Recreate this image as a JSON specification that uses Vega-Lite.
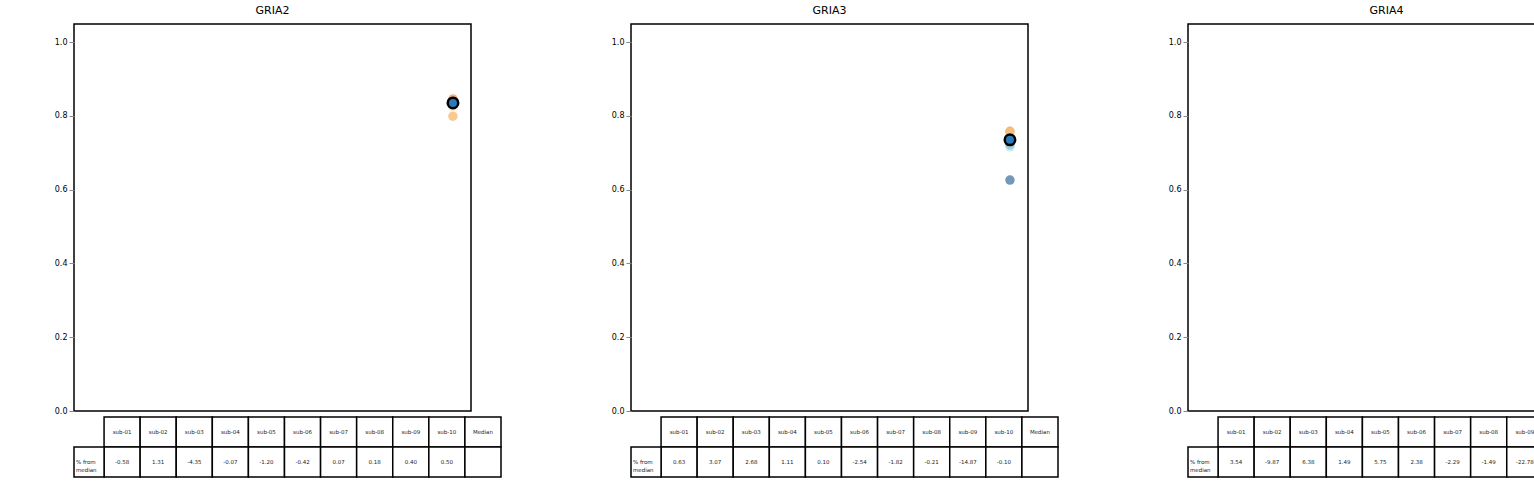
{
"$schema":"https://vega.github.io/schema/vega-lite/v6.json",
"padding":{"left":43,"top":4,"right":5,"bottom":5},
"background":"white",
"config":{"font":"DejaVu Sans","view":{"stroke":null},"concat":{"spacing":98}},
"datasets":{
"v":[
{"g":"GRIA2","s":0,"y":0.47,"w":0},{"g":"GRIA2","s":0,"y":0.62,"w":0.02},{"g":"GRIA2","s":0,"y":0.78,"w":0.12},{"g":"GRIA2","s":0,"y":0.84,"w":0.2},{"g":"GRIA2","s":0,"y":0.88,"w":0.12},{"g":"GRIA2","s":0,"y":0.92,"w":0},
{"g":"GRIA2","s":1,"y":0.72,"w":0},{"g":"GRIA2","s":1,"y":0.78,"w":0.06},{"g":"GRIA2","s":1,"y":0.82,"w":0.16},{"g":"GRIA2","s":1,"y":0.85,"w":0.2},{"g":"GRIA2","s":1,"y":0.89,"w":0.12},{"g":"GRIA2","s":1,"y":0.92,"w":0},
{"g":"GRIA2","s":2,"y":0.61,"w":0},{"g":"GRIA2","s":2,"y":0.72,"w":0.05},{"g":"GRIA2","s":2,"y":0.79,"w":0.16},{"g":"GRIA2","s":2,"y":0.83,"w":0.2},{"g":"GRIA2","s":2,"y":0.87,"w":0.12},{"g":"GRIA2","s":2,"y":0.91,"w":0},
{"g":"GRIA2","s":3,"y":0.56,"w":0},{"g":"GRIA2","s":3,"y":0.70,"w":0.03},{"g":"GRIA2","s":3,"y":0.79,"w":0.12},{"g":"GRIA2","s":3,"y":0.84,"w":0.2},{"g":"GRIA2","s":3,"y":0.88,"w":0.12},{"g":"GRIA2","s":3,"y":0.92,"w":0},
{"g":"GRIA2","s":4,"y":0.47,"w":0},{"g":"GRIA2","s":4,"y":0.65,"w":0.02},{"g":"GRIA2","s":4,"y":0.79,"w":0.1},{"g":"GRIA2","s":4,"y":0.84,"w":0.18},{"g":"GRIA2","s":4,"y":0.88,"w":0.1},{"g":"GRIA2","s":4,"y":0.91,"w":0},
{"g":"GRIA2","s":5,"y":0.55,"w":0},{"g":"GRIA2","s":5,"y":0.68,"w":0.02},{"g":"GRIA2","s":5,"y":0.79,"w":0.12},{"g":"GRIA2","s":5,"y":0.84,"w":0.2},{"g":"GRIA2","s":5,"y":0.88,"w":0.1},{"g":"GRIA2","s":5,"y":0.91,"w":0},
{"g":"GRIA2","s":6,"y":0.60,"w":0},{"g":"GRIA2","s":6,"y":0.72,"w":0.03},{"g":"GRIA2","s":6,"y":0.80,"w":0.12},{"g":"GRIA2","s":6,"y":0.84,"w":0.2},{"g":"GRIA2","s":6,"y":0.88,"w":0.12},{"g":"GRIA2","s":6,"y":0.91,"w":0},
{"g":"GRIA2","s":7,"y":0.58,"w":0},{"g":"GRIA2","s":7,"y":0.70,"w":0.03},{"g":"GRIA2","s":7,"y":0.80,"w":0.12},{"g":"GRIA2","s":7,"y":0.84,"w":0.2},{"g":"GRIA2","s":7,"y":0.88,"w":0.12},{"g":"GRIA2","s":7,"y":0.91,"w":0},
{"g":"GRIA2","s":8,"y":0.64,"w":0},{"g":"GRIA2","s":8,"y":0.72,"w":0.05},{"g":"GRIA2","s":8,"y":0.79,"w":0.16},{"g":"GRIA2","s":8,"y":0.85,"w":0.22},{"g":"GRIA2","s":8,"y":0.89,"w":0.14},{"g":"GRIA2","s":8,"y":0.91,"w":0},
{"g":"GRIA2","s":9,"y":0.67,"w":0},{"g":"GRIA2","s":9,"y":0.75,"w":0.04},{"g":"GRIA2","s":9,"y":0.80,"w":0.14},{"g":"GRIA2","s":9,"y":0.84,"w":0.22},{"g":"GRIA2","s":9,"y":0.88,"w":0.14},{"g":"GRIA2","s":9,"y":0.92,"w":0},
{"g":"GRIA3","s":0,"y":0.55,"w":0},{"g":"GRIA3","s":0,"y":0.65,"w":0.05},{"g":"GRIA3","s":0,"y":0.72,"w":0.16},{"g":"GRIA3","s":0,"y":0.76,"w":0.22},{"g":"GRIA3","s":0,"y":0.80,"w":0.12},{"g":"GRIA3","s":0,"y":0.83,"w":0},
{"g":"GRIA3","s":1,"y":0.60,"w":0},{"g":"GRIA3","s":1,"y":0.67,"w":0.04},{"g":"GRIA3","s":1,"y":0.73,"w":0.14},{"g":"GRIA3","s":1,"y":0.77,"w":0.2},{"g":"GRIA3","s":1,"y":0.80,"w":0.12},{"g":"GRIA3","s":1,"y":0.83,"w":0},
{"g":"GRIA3","s":2,"y":0.62,"w":0},{"g":"GRIA3","s":2,"y":0.68,"w":0.05},{"g":"GRIA3","s":2,"y":0.73,"w":0.14},{"g":"GRIA3","s":2,"y":0.77,"w":0.2},{"g":"GRIA3","s":2,"y":0.80,"w":0.12},{"g":"GRIA3","s":2,"y":0.82,"w":0},
{"g":"GRIA3","s":3,"y":0.56,"w":0},{"g":"GRIA3","s":3,"y":0.66,"w":0.04},{"g":"GRIA3","s":3,"y":0.72,"w":0.14},{"g":"GRIA3","s":3,"y":0.76,"w":0.2},{"g":"GRIA3","s":3,"y":0.79,"w":0.12},{"g":"GRIA3","s":3,"y":0.82,"w":0},
{"g":"GRIA3","s":4,"y":0.57,"w":0},{"g":"GRIA3","s":4,"y":0.66,"w":0.04},{"g":"GRIA3","s":4,"y":0.72,"w":0.14},{"g":"GRIA3","s":4,"y":0.76,"w":0.2},{"g":"GRIA3","s":4,"y":0.79,"w":0.12},{"g":"GRIA3","s":4,"y":0.82,"w":0},
{"g":"GRIA3","s":5,"y":0.44,"w":0},{"g":"GRIA3","s":5,"y":0.60,"w":0.05},{"g":"GRIA3","s":5,"y":0.70,"w":0.15},{"g":"GRIA3","s":5,"y":0.76,"w":0.22},{"g":"GRIA3","s":5,"y":0.80,"w":0.12},{"g":"GRIA3","s":5,"y":0.84,"w":0},
{"g":"GRIA3","s":6,"y":0.43,"w":0},{"g":"GRIA3","s":6,"y":0.60,"w":0.05},{"g":"GRIA3","s":6,"y":0.70,"w":0.15},{"g":"GRIA3","s":6,"y":0.77,"w":0.22},{"g":"GRIA3","s":6,"y":0.81,"w":0.12},{"g":"GRIA3","s":6,"y":0.84,"w":0},
{"g":"GRIA3","s":7,"y":0.46,"w":0},{"g":"GRIA3","s":7,"y":0.60,"w":0.05},{"g":"GRIA3","s":7,"y":0.70,"w":0.15},{"g":"GRIA3","s":7,"y":0.76,"w":0.2},{"g":"GRIA3","s":7,"y":0.80,"w":0.12},{"g":"GRIA3","s":7,"y":0.83,"w":0},
{"g":"GRIA3","s":8,"y":0.22,"w":0},{"g":"GRIA3","s":8,"y":0.40,"w":0.06},{"g":"GRIA3","s":8,"y":0.55,"w":0.16},{"g":"GRIA3","s":8,"y":0.72,"w":0.24},{"g":"GRIA3","s":8,"y":0.79,"w":0.2},{"g":"GRIA3","s":8,"y":0.83,"w":0},
{"g":"GRIA3","s":9,"y":0.46,"w":0},{"g":"GRIA3","s":9,"y":0.60,"w":0.05},{"g":"GRIA3","s":9,"y":0.70,"w":0.16},{"g":"GRIA3","s":9,"y":0.77,"w":0.24},{"g":"GRIA3","s":9,"y":0.81,"w":0.14},{"g":"GRIA3","s":9,"y":0.84,"w":0},
{"g":"GRIA4","s":0,"y":0.14,"w":0},{"g":"GRIA4","s":0,"y":0.22,"w":0.06},{"g":"GRIA4","s":0,"y":0.30,"w":0.16},{"g":"GRIA4","s":0,"y":0.36,"w":0.22},{"g":"GRIA4","s":0,"y":0.44,"w":0.12},{"g":"GRIA4","s":0,"y":0.62,"w":0},
{"g":"GRIA4","s":1,"y":0.10,"w":0.08},{"g":"GRIA4","s":1,"y":0.16,"w":0.12},{"g":"GRIA4","s":1,"y":0.28,"w":0.18},{"g":"GRIA4","s":1,"y":0.34,"w":0.22},{"g":"GRIA4","s":1,"y":0.40,"w":0.14},{"g":"GRIA4","s":1,"y":0.48,"w":0},
{"g":"GRIA4","s":2,"y":0.13,"w":0},{"g":"GRIA4","s":2,"y":0.22,"w":0.06},{"g":"GRIA4","s":2,"y":0.30,"w":0.16},{"g":"GRIA4","s":2,"y":0.36,"w":0.22},{"g":"GRIA4","s":2,"y":0.42,"w":0.14},{"g":"GRIA4","s":2,"y":0.50,"w":0},
{"g":"GRIA4","s":3,"y":0.14,"w":0},{"g":"GRIA4","s":3,"y":0.22,"w":0.06},{"g":"GRIA4","s":3,"y":0.30,"w":0.16},{"g":"GRIA4","s":3,"y":0.36,"w":0.22},{"g":"GRIA4","s":3,"y":0.43,"w":0.12},{"g":"GRIA4","s":3,"y":0.55,"w":0},
{"g":"GRIA4","s":4,"y":0.17,"w":0},{"g":"GRIA4","s":4,"y":0.24,"w":0.06},{"g":"GRIA4","s":4,"y":0.31,"w":0.16},{"g":"GRIA4","s":4,"y":0.37,"w":0.22},{"g":"GRIA4","s":4,"y":0.45,"w":0.12},{"g":"GRIA4","s":4,"y":0.63,"w":0},
{"g":"GRIA4","s":5,"y":0.17,"w":0},{"g":"GRIA4","s":5,"y":0.24,"w":0.08},{"g":"GRIA4","s":5,"y":0.30,"w":0.18},{"g":"GRIA4","s":5,"y":0.36,"w":0.24},{"g":"GRIA4","s":5,"y":0.45,"w":0.12},{"g":"GRIA4","s":5,"y":0.67,"w":0},
{"g":"GRIA4","s":6,"y":0.14,"w":0},{"g":"GRIA4","s":6,"y":0.22,"w":0.06},{"g":"GRIA4","s":6,"y":0.30,"w":0.18},{"g":"GRIA4","s":6,"y":0.36,"w":0.22},{"g":"GRIA4","s":6,"y":0.45,"w":0.12},{"g":"GRIA4","s":6,"y":0.66,"w":0},
{"g":"GRIA4","s":7,"y":0.14,"w":0},{"g":"GRIA4","s":7,"y":0.22,"w":0.06},{"g":"GRIA4","s":7,"y":0.30,"w":0.16},{"g":"GRIA4","s":7,"y":0.36,"w":0.22},{"g":"GRIA4","s":7,"y":0.44,"w":0.12},{"g":"GRIA4","s":7,"y":0.62,"w":0},
{"g":"GRIA4","s":8,"y":0.10,"w":0.08},{"g":"GRIA4","s":8,"y":0.16,"w":0.14},{"g":"GRIA4","s":8,"y":0.24,"w":0.22},{"g":"GRIA4","s":8,"y":0.30,"w":0.24},{"g":"GRIA4","s":8,"y":0.40,"w":0.14},{"g":"GRIA4","s":8,"y":0.69,"w":0},
{"g":"GRIA4","s":9,"y":0.12,"w":0},{"g":"GRIA4","s":9,"y":0.20,"w":0.06},{"g":"GRIA4","s":9,"y":0.30,"w":0.16},{"g":"GRIA4","s":9,"y":0.37,"w":0.24},{"g":"GRIA4","s":9,"y":0.45,"w":0.14},{"g":"GRIA4","s":9,"y":0.63,"w":0}
],
"m":[
{"g":"GRIA2","s":0,"v":0.830,"p":"-0.58"},{"g":"GRIA2","s":1,"v":0.846,"p":"1.31"},{"g":"GRIA2","s":2,"v":0.799,"p":"-4.35"},{"g":"GRIA2","s":3,"v":0.834,"p":"-0.07"},{"g":"GRIA2","s":4,"v":0.825,"p":"-1.20"},{"g":"GRIA2","s":5,"v":0.831,"p":"-0.42"},{"g":"GRIA2","s":6,"v":0.836,"p":"0.07"},{"g":"GRIA2","s":7,"v":0.837,"p":"0.18"},{"g":"GRIA2","s":8,"v":0.838,"p":"0.40"},{"g":"GRIA2","s":9,"v":0.839,"p":"0.50"},
{"g":"GRIA3","s":0,"v":0.740,"p":"0.63"},{"g":"GRIA3","s":1,"v":0.758,"p":"3.07"},{"g":"GRIA3","s":2,"v":0.755,"p":"2.68"},{"g":"GRIA3","s":3,"v":0.743,"p":"1.11"},{"g":"GRIA3","s":4,"v":0.736,"p":"0.10"},{"g":"GRIA3","s":5,"v":0.716,"p":"-2.54"},{"g":"GRIA3","s":6,"v":0.722,"p":"-1.82"},{"g":"GRIA3","s":7,"v":0.733,"p":"-0.21"},{"g":"GRIA3","s":8,"v":0.626,"p":"-14.87"},{"g":"GRIA3","s":9,"v":0.734,"p":"-0.10"},
{"g":"GRIA4","s":0,"v":0.357,"p":"3.54"},{"g":"GRIA4","s":1,"v":0.311,"p":"-9.87"},{"g":"GRIA4","s":2,"v":0.367,"p":"6.38"},{"g":"GRIA4","s":3,"v":0.350,"p":"1.49"},{"g":"GRIA4","s":4,"v":0.365,"p":"5.75"},{"g":"GRIA4","s":5,"v":0.353,"p":"2.38"},{"g":"GRIA4","s":6,"v":0.337,"p":"-2.29"},{"g":"GRIA4","s":7,"v":0.340,"p":"-1.49"},{"g":"GRIA4","s":8,"v":0.266,"p":"-22.78"},{"g":"GRIA4","s":9,"v":0.325,"p":"-5.83"}
],
"om":[{"g":"GRIA2","v":0.835},{"g":"GRIA3","v":0.735},{"g":"GRIA4","v":0.345}],
"names":[{"c":0,"label":"sub-01"},{"c":1,"label":"sub-02"},{"c":2,"label":"sub-03"},{"c":3,"label":"sub-04"},{"c":4,"label":"sub-05"},{"c":5,"label":"sub-06"},{"c":6,"label":"sub-07"},{"c":7,"label":"sub-08"},{"c":8,"label":"sub-09"},{"c":9,"label":"sub-10"},{"c":10,"label":"Median"}],
"lab":[{"t":"% from\nmedian"}]
},
"resolve":{"scale":{"x":"independent","y":"independent"}},
"hconcat":[
{"spacing":0,"resolve":{"scale":{"x":"independent","y":"independent"}},"vconcat":[
 {"width":397,"height":387,"title":{"text":"GRIA2","fontSize":11,"fontWeight":"normal","offset":8},"view":{"stroke":"black","strokeWidth":1.5},
  "layer":[
   {"data":{"name":"v"},"transform":[{"filter":"datum.g=='GRIA2'"},{"calculate":"datum.s-datum.w","as":"lo"},{"calculate":"datum.s+datum.w","as":"hi"}],
    "mark":{"type":"area","orient":"horizontal","opacity":0.9},
    "encoding":{"y":{"field":"y","type":"quantitative","scale":{"domain":[0,1.049],"nice":false},"axis":{"values":[0,0.2,0.4,0.6,0.8,1.0],"format":".1f","grid":false,"domain":false,"labelFontSize":8,"tickSize":5,"title":null,"minExtent":30,"maxExtent":30}},
     "x":{"field":"lo","type":"quantitative","scale":{"domain":[-0.5,10.5],"nice":false,"zero":false},"axis":null},"x2":{"field":"hi"},
     "color":{"field":"s","type":"ordinal","scale":{"domain":[0,1,2,3,4,5,6,7,8,9],"range":["#e8827a","#f0a46c","#f7c07e","#fcd98e","#fdebc8","#c4e6e8","#8ccbe0","#73a9c4","#5b86ad","#44688c"]},"legend":null},
     "detail":{"field":"s"},"order":{"field":"y"}}},
   {"data":{"name":"m"},"transform":[{"filter":"datum.g=='GRIA2'"}],"mark":{"type":"circle","size":90,"opacity":0.85},
    "encoding":{"x":{"datum":10,"type":"quantitative"},"y":{"field":"v","type":"quantitative"},"color":{"field":"s","type":"ordinal","legend":null}}},
   {"data":{"name":"om"},"transform":[{"filter":"datum.g=='GRIA2'"}],"mark":{"type":"circle","size":110,"fill":"#2b7bba","stroke":"black","strokeWidth":2.5,"opacity":1},
    "encoding":{"x":{"datum":10,"type":"quantitative"},"y":{"field":"v","type":"quantitative"}}}
  ]},
 {"width":427,"height":60,"layer":[
   {"data":{"name":"names"},"transform":[{"calculate":"datum.c-0.5","as":"a"},{"calculate":"datum.c+0.5","as":"b"}],"mark":{"type":"rect","fill":"white","stroke":"black","strokeWidth":1.5},
    "encoding":{"x":{"field":"a","type":"quantitative","scale":{"domain":[-1.333,10.5],"nice":false,"zero":false},"axis":null},"x2":{"field":"b"},"y":{"datum":0,"type":"quantitative","scale":{"domain":[0,2],"reverse":true,"nice":false},"axis":null},"y2":{"datum":1}}},
   {"data":{"name":"names"},"transform":[{"calculate":"datum.c-0.5","as":"a"},{"calculate":"datum.c+0.5","as":"b"}],"mark":{"type":"rect","fill":"white","stroke":"black","strokeWidth":1.5},
    "encoding":{"x":{"field":"a","type":"quantitative"},"x2":{"field":"b"},"y":{"datum":1,"type":"quantitative"},"y2":{"datum":2}}},
   {"data":{"name":"lab"},"mark":{"type":"rect","fill":"white","stroke":"black","strokeWidth":1.5},
    "encoding":{"x":{"datum":-1.333,"type":"quantitative"},"x2":{"datum":-0.5},"y":{"datum":1,"type":"quantitative"},"y2":{"datum":2}}},
   {"data":{"name":"names"},"mark":{"type":"text","fontSize":5.5,"color":"#222"},
    "encoding":{"x":{"field":"c","type":"quantitative"},"y":{"datum":0.5,"type":"quantitative"},"text":{"field":"label"}}},
   {"data":{"name":"m"},"transform":[{"filter":"datum.g=='GRIA2'"}],"mark":{"type":"text","fontSize":5.5,"color":"#222"},
    "encoding":{"x":{"field":"s","type":"quantitative"},"y":{"datum":1.5,"type":"quantitative"},"text":{"field":"p"}}},
   {"data":{"name":"lab"},"mark":{"type":"text","fontSize":5.5,"color":"#222","lineBreak":"\n","align":"left"},
    "encoding":{"x":{"datum":-1.28,"type":"quantitative"},"y":{"datum":1.5,"type":"quantitative"},"text":{"field":"t"}}}
 ]}
]},
{"spacing":0,"resolve":{"scale":{"x":"independent","y":"independent"}},"vconcat":[
 {"width":397,"height":387,"title":{"text":"GRIA3","fontSize":11,"fontWeight":"normal","offset":8},"view":{"stroke":"black","strokeWidth":1.5},
  "layer":[
   {"data":{"name":"v"},"transform":[{"filter":"datum.g=='GRIA3'"},{"calculate":"datum.s-datum.w","as":"lo"},{"calculate":"datum.s+datum.w","as":"hi"}],
    "mark":{"type":"area","orient":"horizontal","opacity":0.9},
    "encoding":{"y":{"field":"y","type":"quantitative","scale":{"domain":[0,1.049],"nice":false},"axis":{"values":[0,0.2,0.4,0.6,0.8,1.0],"format":".1f","grid":false,"domain":false,"labelFontSize":8,"tickSize":5,"title":null,"minExtent":30,"maxExtent":30}},
     "x":{"field":"lo","type":"quantitative","scale":{"domain":[-0.5,10.5],"nice":false,"zero":false},"axis":null},"x2":{"field":"hi"},
     "color":{"field":"s","type":"ordinal","scale":{"domain":[0,1,2,3,4,5,6,7,8,9],"range":["#e8827a","#f0a46c","#f7c07e","#fcd98e","#fdebc8","#c4e6e8","#8ccbe0","#73a9c4","#5b86ad","#44688c"]},"legend":null},
     "detail":{"field":"s"},"order":{"field":"y"}}},
   {"data":{"name":"m"},"transform":[{"filter":"datum.g=='GRIA3'"}],"mark":{"type":"circle","size":90,"opacity":0.85},
    "encoding":{"x":{"datum":10,"type":"quantitative"},"y":{"field":"v","type":"quantitative"},"color":{"field":"s","type":"ordinal","legend":null}}},
   {"data":{"name":"om"},"transform":[{"filter":"datum.g=='GRIA3'"}],"mark":{"type":"circle","size":110,"fill":"#2b7bba","stroke":"black","strokeWidth":2.5,"opacity":1},
    "encoding":{"x":{"datum":10,"type":"quantitative"},"y":{"field":"v","type":"quantitative"}}}
  ]},
 {"width":427,"height":60,"layer":[
   {"data":{"name":"names"},"transform":[{"calculate":"datum.c-0.5","as":"a"},{"calculate":"datum.c+0.5","as":"b"}],"mark":{"type":"rect","fill":"white","stroke":"black","strokeWidth":1.5},
    "encoding":{"x":{"field":"a","type":"quantitative","scale":{"domain":[-1.333,10.5],"nice":false,"zero":false},"axis":null},"x2":{"field":"b"},"y":{"datum":0,"type":"quantitative","scale":{"domain":[0,2],"reverse":true,"nice":false},"axis":null},"y2":{"datum":1}}},
   {"data":{"name":"names"},"transform":[{"calculate":"datum.c-0.5","as":"a"},{"calculate":"datum.c+0.5","as":"b"}],"mark":{"type":"rect","fill":"white","stroke":"black","strokeWidth":1.5},
    "encoding":{"x":{"field":"a","type":"quantitative"},"x2":{"field":"b"},"y":{"datum":1,"type":"quantitative"},"y2":{"datum":2}}},
   {"data":{"name":"lab"},"mark":{"type":"rect","fill":"white","stroke":"black","strokeWidth":1.5},
    "encoding":{"x":{"datum":-1.333,"type":"quantitative"},"x2":{"datum":-0.5},"y":{"datum":1,"type":"quantitative"},"y2":{"datum":2}}},
   {"data":{"name":"names"},"mark":{"type":"text","fontSize":5.5,"color":"#222"},
    "encoding":{"x":{"field":"c","type":"quantitative"},"y":{"datum":0.5,"type":"quantitative"},"text":{"field":"label"}}},
   {"data":{"name":"m"},"transform":[{"filter":"datum.g=='GRIA3'"}],"mark":{"type":"text","fontSize":5.5,"color":"#222"},
    "encoding":{"x":{"field":"s","type":"quantitative"},"y":{"datum":1.5,"type":"quantitative"},"text":{"field":"p"}}},
   {"data":{"name":"lab"},"mark":{"type":"text","fontSize":5.5,"color":"#222","lineBreak":"\n","align":"left"},
    "encoding":{"x":{"datum":-1.28,"type":"quantitative"},"y":{"datum":1.5,"type":"quantitative"},"text":{"field":"t"}}}
 ]}
]},
{"spacing":0,"resolve":{"scale":{"x":"independent","y":"independent"}},"vconcat":[
 {"width":397,"height":387,"title":{"text":"GRIA4","fontSize":11,"fontWeight":"normal","offset":8},"view":{"stroke":"black","strokeWidth":1.5},
  "layer":[
   {"data":{"name":"v"},"transform":[{"filter":"datum.g=='GRIA4'"},{"calculate":"datum.s-datum.w","as":"lo"},{"calculate":"datum.s+datum.w","as":"hi"}],
    "mark":{"type":"area","orient":"horizontal","opacity":0.9},
    "encoding":{"y":{"field":"y","type":"quantitative","scale":{"domain":[0,1.049],"nice":false},"axis":{"values":[0,0.2,0.4,0.6,0.8,1.0],"format":".1f","grid":false,"domain":false,"labelFontSize":8,"tickSize":5,"title":null,"minExtent":30,"maxExtent":30}},
     "x":{"field":"lo","type":"quantitative","scale":{"domain":[-0.5,10.5],"nice":false,"zero":false},"axis":null},"x2":{"field":"hi"},
     "color":{"field":"s","type":"ordinal","scale":{"domain":[0,1,2,3,4,5,6,7,8,9],"range":["#e8827a","#f0a46c","#f7c07e","#fcd98e","#fdebc8","#c4e6e8","#8ccbe0","#73a9c4","#5b86ad","#44688c"]},"legend":null},
     "detail":{"field":"s"},"order":{"field":"y"}}},
   {"data":{"name":"m"},"transform":[{"filter":"datum.g=='GRIA4'"}],"mark":{"type":"circle","size":90,"opacity":0.85},
    "encoding":{"x":{"datum":10,"type":"quantitative"},"y":{"field":"v","type":"quantitative"},"color":{"field":"s","type":"ordinal","legend":null}}},
   {"data":{"name":"om"},"transform":[{"filter":"datum.g=='GRIA4'"}],"mark":{"type":"circle","size":110,"fill":"#2b7bba","stroke":"black","strokeWidth":2.5,"opacity":1},
    "encoding":{"x":{"datum":10,"type":"quantitative"},"y":{"field":"v","type":"quantitative"}}}
  ]},
 {"width":427,"height":60,"layer":[
   {"data":{"name":"names"},"transform":[{"calculate":"datum.c-0.5","as":"a"},{"calculate":"datum.c+0.5","as":"b"}],"mark":{"type":"rect","fill":"white","stroke":"black","strokeWidth":1.5},
    "encoding":{"x":{"field":"a","type":"quantitative","scale":{"domain":[-1.333,10.5],"nice":false,"zero":false},"axis":null},"x2":{"field":"b"},"y":{"datum":0,"type":"quantitative","scale":{"domain":[0,2],"reverse":true,"nice":false},"axis":null},"y2":{"datum":1}}},
   {"data":{"name":"names"},"transform":[{"calculate":"datum.c-0.5","as":"a"},{"calculate":"datum.c+0.5","as":"b"}],"mark":{"type":"rect","fill":"white","stroke":"black","strokeWidth":1.5},
    "encoding":{"x":{"field":"a","type":"quantitative"},"x2":{"field":"b"},"y":{"datum":1,"type":"quantitative"},"y2":{"datum":2}}},
   {"data":{"name":"lab"},"mark":{"type":"rect","fill":"white","stroke":"black","strokeWidth":1.5},
    "encoding":{"x":{"datum":-1.333,"type":"quantitative"},"x2":{"datum":-0.5},"y":{"datum":1,"type":"quantitative"},"y2":{"datum":2}}},
   {"data":{"name":"names"},"mark":{"type":"text","fontSize":5.5,"color":"#222"},
    "encoding":{"x":{"field":"c","type":"quantitative"},"y":{"datum":0.5,"type":"quantitative"},"text":{"field":"label"}}},
   {"data":{"name":"m"},"transform":[{"filter":"datum.g=='GRIA4'"}],"mark":{"type":"text","fontSize":5.5,"color":"#222"},
    "encoding":{"x":{"field":"s","type":"quantitative"},"y":{"datum":1.5,"type":"quantitative"},"text":{"field":"p"}}},
   {"data":{"name":"lab"},"mark":{"type":"text","fontSize":5.5,"color":"#222","lineBreak":"\n","align":"left"},
    "encoding":{"x":{"datum":-1.28,"type":"quantitative"},"y":{"datum":1.5,"type":"quantitative"},"text":{"field":"t"}}}
 ]}
]}
]
}
